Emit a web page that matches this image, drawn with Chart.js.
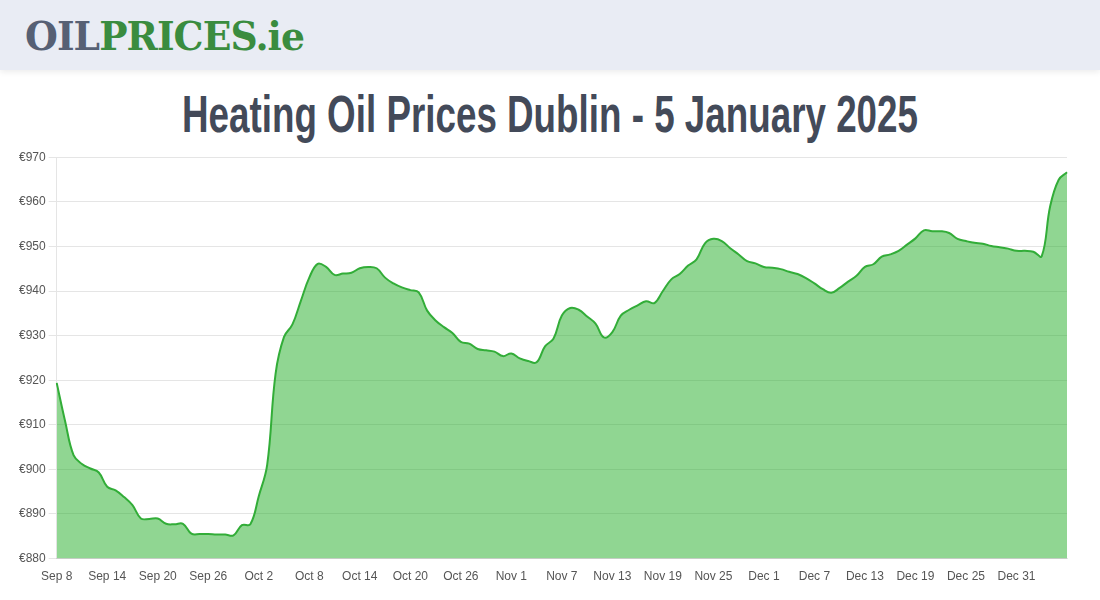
<!DOCTYPE html>
<html>
<head>
<meta charset="utf-8">
<script src="https://cdn.jsdelivr.net/npm/chart.js@4/dist/chart.umd.min.js"></script>
<style>
    body { margin: 0; width: 1100px; height: 600px; background: #fff; overflow: hidden; font-family: "Liberation Sans", Arial, sans-serif; }
    #header { position: absolute; left: 0; top: 0; width: 1100px; height: 70px; background: #e9ecf4; box-shadow: 0 2px 6px rgba(0,0,0,0.08); }
    #logo { position: absolute; left: 25px; top: 12px; font-family: "DejaVu Serif", serif; font-weight: bold; font-size: 40px; white-space: nowrap; transform-origin: 0 0; letter-spacing: -1px; }
    #logo .oil { color: #566074; }
    #logo .prices { color: #3a8c3f; }
    #title { position: absolute; left: 0; top: 84px; white-space: nowrap; font-family: "Liberation Sans Narrow", "Liberation Sans", sans-serif; font-weight: bold; font-size: 52px; color: #434a59; transform-origin: 0 0; }
    #chart-box { position: absolute; left: 0; top: 147px; width: 1100px; height: 440px; }
</style>
</head>
<body>
<div id="header"><div id="logo"><span class="oil">OIL</span><span class="prices">PRICES.ie</span></div></div>
<div id="title">Heating Oil Prices Dublin - 5 January 2025</div>
<div id="chart-box"><canvas id="priceChart"></canvas></div>

<script>
// daily prices, Sep 8 2024 - Jan 6 2025
const monthNames = ["Sep", "Oct", "Nov", "Dec", "Jan"];
const monthFirstDay = [8, 1, 1, 1, 1];

const sepPrices = [919.4, 910.8, 903.2, 901.2, 900.2, 899.3, 896.1, 895.3, 893.8, 892.0,
    889.0, 888.9, 889.0, 887.8, 887.7, 887.8, 885.6, 885.5, 885.5, 885.4,
    885.4, 885.2, 887.5];
const octPrices = [887.7, 894.0, 901.0, 921.5, 929.7, 932.5, 937.8, 943.0, 946.1, 945.4,
    943.6, 943.9, 944.1, 945.1, 945.4, 945.1, 943.0, 941.7, 940.8, 940.2,
    939.7, 935.6, 933.4, 931.9, 930.6, 928.6, 928.2, 927.0, 926.7, 926.4,
    925.4];
const novPrices = [926.0, 924.9, 924.3, 924.0, 927.6, 929.3, 934.5, 936.2, 935.8, 934.3,
    932.7, 929.6, 930.8, 934.5, 935.8, 936.8, 937.7, 937.3, 940.0, 942.6,
    943.8, 945.7, 947.1, 950.7, 951.7, 951.2, 949.6, 948.2, 946.7, 946.2];
const decPrices = [945.4, 945.2, 944.9, 944.3, 943.8, 942.9, 941.7, 940.4, 939.6, 940.7,
    942.1, 943.4, 945.4, 946.0, 947.7, 948.2, 949.0, 950.4, 951.8, 953.6,
    953.4, 953.4, 953.0, 951.7, 951.2, 950.8, 950.6, 950.1, 949.8, 949.5,
    949.0];
const janPrices = [949.0, 948.8, 947.8, 959.0, 964.9, 966.6];

const yMin = 880;
const yMax = 970;
const yStep = 10;
const labelEvery = 6;

const monthPrices = [sepPrices, octPrices, novPrices, decPrices, janPrices];
const labels = [];
const prices = [];
monthPrices.forEach((list, m) => {
    list.forEach((p, d) => {
        labels.push(monthNames[m] + " " + (monthFirstDay[m] + d));
        prices.push(p);
    });
});

function fitWidth(id, target) {
    const el = document.getElementById(id);
    const w = el.getBoundingClientRect().width;
    el.style.transform = "scaleX(" + (target / w) + ")";
    return el;
}
fitWidth("logo", 279);
const t = fitWidth("title", 736);
t.style.left = "182px";

const ctx = document.getElementById("priceChart").getContext("2d");
new Chart(ctx, {
    type: "line",
    data: {
        labels: labels,
        datasets: [{
            label: "Price",
            data: prices,
            borderColor: "#32ad38",
            backgroundColor: "rgba(33, 173, 37, 0.5)",
            borderWidth: 2,
            fill: true,
            tension: 0.4,
            pointRadius: 0
        }]
    },
    options: {
        responsive: true,
        maintainAspectRatio: false,
        animation: false,
        layout: { padding: { left: 16, right: 33, top: 0, bottom: 0 } },
        plugins: {
            legend: { display: false },
            tooltip: { enabled: false }
        },
        scales: {
            x: {
                grid: { display: false },
                ticks: {
                    autoSkip: false,
                    maxRotation: 0,
                    color: "#555",
                    font: { family: "'Liberation Sans', Arial", size: 12 },
                    callback: function(value, index) {
                        const last = labels.length - 1;
                        return (index % labelEvery === 0 && index < last) ? this.getLabelForValue(value) : "";
                    }
                }
            },
            y: {
                min: yMin,
                max: yMax,
                ticks: {
                    stepSize: yStep,
                    color: "#555",
                    font: { family: "'Liberation Sans', Arial", size: 12 },
                    callback: v => "€" + v
                }
            }
        }
    }
});
</script>
</body>
</html>
